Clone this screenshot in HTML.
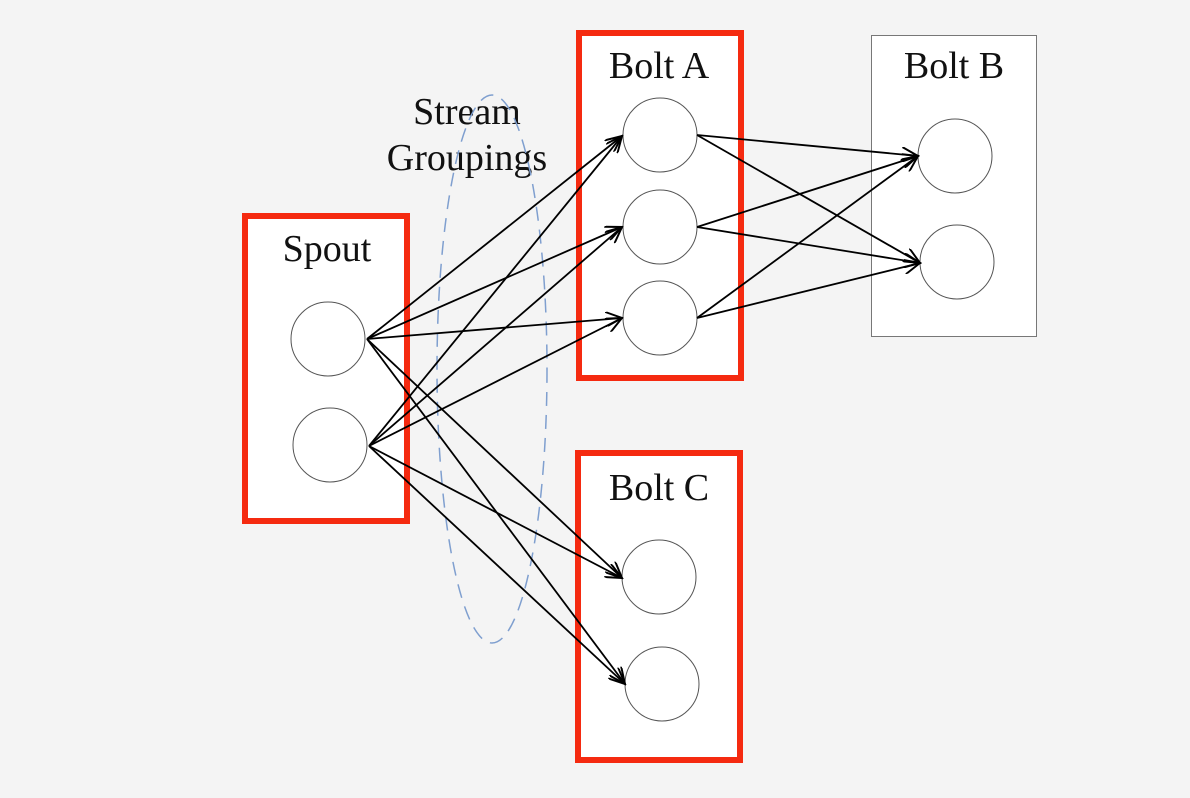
<!DOCTYPE html>
<html><head><style>
html,body{margin:0;padding:0;background:#f4f4f4;}
svg{display:block}
text{font-family:"Liberation Serif",serif;fill:#111;}
</style></head><body>
<svg width="1190" height="798" viewBox="0 0 1190 798" xmlns="http://www.w3.org/2000/svg">
<defs>
<marker id="a" viewBox="0 0 12 10" refX="11" refY="5" markerWidth="18" markerHeight="15" markerUnits="userSpaceOnUse" orient="auto">
<path d="M0,0 L11,5 L0,10" fill="none" stroke="#000" stroke-width="1.3"/>
</marker>
</defs>
<rect x="0" y="0" width="1190" height="798" fill="#f4f4f4"/>
<rect x="245" y="216" width="162" height="305" fill="#fff" stroke="#f52a10" stroke-width="6"/>
<rect x="579" y="33" width="162" height="345" fill="#fff" stroke="#f52a10" stroke-width="6"/>
<rect x="578" y="453" width="162" height="307" fill="#fff" stroke="#f52a10" stroke-width="6"/>
<rect x="871.5" y="35.5" width="165" height="301" fill="#fff" stroke="#777" stroke-width="1"/>
<text x="327" y="261" font-size="38" text-anchor="middle">Spout</text>
<text x="659" y="78" font-size="38" text-anchor="middle">Bolt A</text>
<text x="659" y="500" font-size="38" text-anchor="middle">Bolt C</text>
<text x="954" y="78" font-size="38" text-anchor="middle">Bolt B</text>
<text x="467" y="124" font-size="38" text-anchor="middle">Stream</text>
<text x="467" y="170" font-size="38" text-anchor="middle">Groupings</text>
<ellipse cx="492" cy="369" rx="55" ry="274" fill="none" stroke="#7f9fcf" stroke-width="1.5" stroke-dasharray="14,9"/>
<g fill="#fff" stroke="#555" stroke-width="1">
<circle cx="328" cy="339" r="37"/>
<circle cx="330" cy="445" r="37"/>
<circle cx="660" cy="135" r="37"/>
<circle cx="660" cy="227" r="37"/>
<circle cx="660" cy="318" r="37"/>
<circle cx="955" cy="156" r="37"/>
<circle cx="957" cy="262" r="37"/>
<circle cx="659" cy="577" r="37"/>
<circle cx="662" cy="684" r="37"/>
</g>
<g stroke="#000" stroke-width="1.8" marker-end="url(#a)">
<line x1="367" y1="339" x2="622" y2="136"/>
<line x1="367" y1="339" x2="622" y2="227"/>
<line x1="367" y1="339" x2="622" y2="318"/>
<line x1="367" y1="339" x2="622" y2="578"/>
<line x1="367" y1="339" x2="625" y2="684"/>
<line x1="369" y1="446" x2="622" y2="136"/>
<line x1="369" y1="446" x2="622" y2="227"/>
<line x1="369" y1="446" x2="622" y2="318"/>
<line x1="369" y1="446" x2="622" y2="578"/>
<line x1="369" y1="446" x2="625" y2="684"/>
<line x1="697" y1="135" x2="918" y2="156"/>
<line x1="697" y1="135" x2="920" y2="263"/>
<line x1="697" y1="227" x2="918" y2="156"/>
<line x1="697" y1="227" x2="920" y2="263"/>
<line x1="697" y1="318" x2="918" y2="156"/>
<line x1="697" y1="318" x2="920" y2="263"/>
</g>
</svg>
</body></html>
